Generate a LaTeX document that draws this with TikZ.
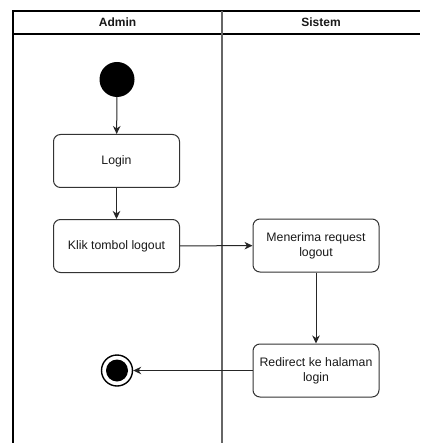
\documentclass[tikz,border=0pt]{standalone}
\usepackage{fontspec}
\setmainfont{Liberation Sans}
\usetikzlibrary{arrows.meta}
\begin{document}
\begin{tikzpicture}[x=1pt,y=-1pt,
  lane/.style={line width=1.2pt,draw=black},
  divider/.style={line width=1.4pt,draw=black!60},
  action/.style={draw=black!80,line width=1pt,rounded corners=7pt,
    minimum width=126pt,minimum height=53pt,align=center,inner sep=2pt,
    font=\fontsize{12.3}{15}\selectfont,text=black!90},
  head/.style={font=\fontsize{12}{14}\selectfont\bfseries,text=black!90},
  flow/.style={line width=1pt,draw=black!85,
    -{Stealth[length=8pt,width=7.5pt,inset=2.5pt]}}]
  \useasboundingbox (0,0) rectangle (420,443);
  \fill[white] (0,0) rectangle (420,443);

  % swimlane frame
  \coordinate (tl) at (13,11);
  \coordinate (hl) at (13,34);
  \coordinate (bl) at (13,443);
  \coordinate (tr) at (420,11);
  \coordinate (hr) at (420,34);
  \coordinate (dt) at (222,11);
  \coordinate (db) at (222,443);
  \draw[lane] (bl) -- (tl) -- (tr);
  \draw[lane] (hl) -- (hr);
  \draw[divider] (dt) -- (db);
  \node[head] (hadmin) at (117.5,22.5) {Admin};
  \node[head] (hsistem) at (321,22.5) {Sistem};

  % start and end states
  \node[circle,fill=black,minimum size=35pt,inner sep=0pt] (start) at (117,79.5) {};
  \node[circle,draw=black,line width=1.4pt,minimum size=31pt,inner sep=0pt] (endo) at (117,370.5) {};
  \node[circle,fill=black,minimum size=22pt,inner sep=0pt] (endi) at (117,370.5) {};

  % actions
  \node[action] (login) at (116.5,161) {Login};
  \node[action] (klik) at (116.5,246) {Klik tombol logout};
  \node[action] (terima) at (316,245.5) {Menerima request\\logout};
  \node[action] (redirect) at (316,370.5) {Redirect ke halaman\\login};

  % control flow
  \draw[flow] (start) -- (login);
  \draw[flow] (login) -- (klik);
  \draw[flow] (klik) -- (terima);
  \draw[flow] (terima) -- (redirect);
  \draw[flow] (redirect) -- (endo);
\end{tikzpicture}
\end{document}
